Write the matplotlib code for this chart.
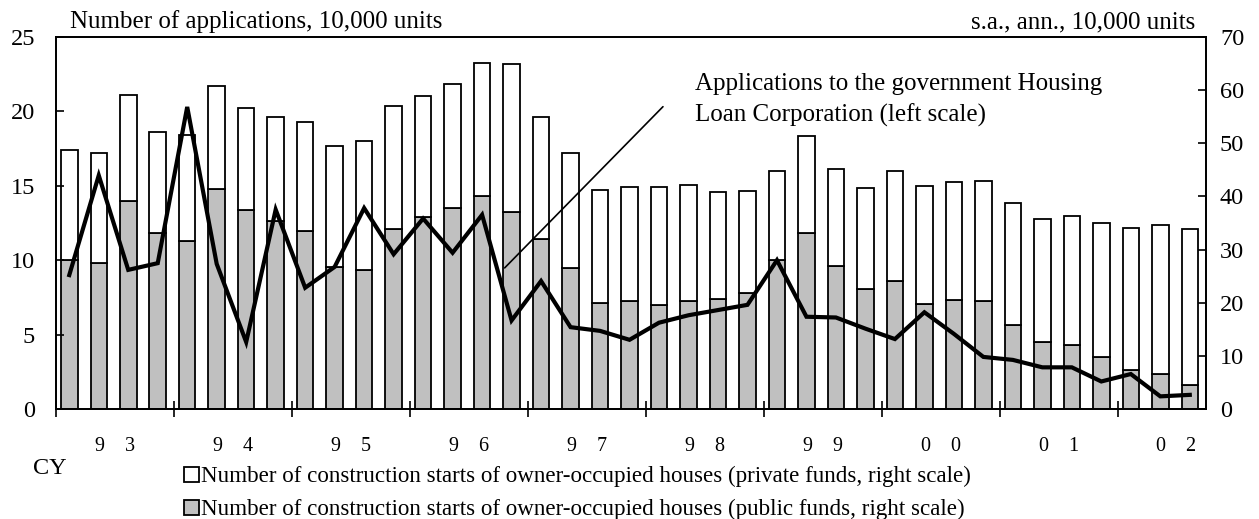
import matplotlib

matplotlib.use("Agg")
import matplotlib.pyplot as plt
import numpy as np
from matplotlib.patches import Rectangle

plt.rcParams["font.family"] = ["Liberation Serif", "DejaVu Serif"]

# quarterly, 1993 Q1 - 2002 Q3
YEAR_LABELS = ["9    3", "9    4", "9    5", "9    6", "9    7",
               "9    8", "9    9", "0    0", "0    1", "0    2"]

# construction starts, public funds (right scale, 10,000 units)
public_funds = [28.1, 27.5, 39.1, 33.1, 31.6, 41.4, 37.5, 35.3, 33.5, 26.7,
                26.2, 33.8, 36.1, 37.8, 40.1, 37.0, 31.9, 26.5, 19.9, 20.4,
                19.6, 20.4, 20.7, 21.8, 28.0, 33.1, 26.9, 22.6, 24.0, 19.8,
                20.5, 20.3, 15.9, 12.7, 12.1, 9.7, 7.4, 6.6, 4.5]
# construction starts, private funds (right scale, 10,000 units)
private_funds = [20.7, 20.6, 19.9, 19.1, 19.9, 19.3, 19.2, 19.7, 20.5, 22.8,
                 24.3, 23.3, 22.8, 23.3, 25.1, 28.0, 23.0, 21.7, 21.4, 21.3,
                 22.1, 21.7, 20.1, 19.2, 16.7, 18.3, 18.3, 19.0, 20.8, 22.1,
                 22.3, 22.6, 22.9, 23.0, 24.3, 25.3, 26.6, 28.1, 29.4]
# applications to the Housing Loan Corporation (left scale, 10,000 units)
applications = [9.0, 15.7, 9.35, 9.8, 20.3, 9.75, 4.5, 13.4, 8.15, 9.55,
                13.5, 10.4, 12.8, 10.5, 13.05, 5.95, 8.6, 5.5, 5.25, 4.65,
                5.8, 6.3, 6.65, 7.0, 10.0, 6.2, 6.15, 5.4, 4.7, 6.5,
                5.05, 3.5, 3.3, 2.8, 2.8, 1.85, 2.35, 0.85, 0.95]

LEGEND_LABELS = [
    "Number of construction starts of owner-occupied houses (private funds, right scale)",
    "Number of construction starts of owner-occupied houses (public funds, right scale)",
]

GRAY = "#c0c0c0"
W, H = 1259, 519
FS_TITLE = 18.0
FS_TICK = 17.5
FS_YEAR = 14.5
FS_LEG = 16.6


def fx(px):
    return px / W


def fy(py):
    return 1 - py / H


n = len(applications)
x = np.arange(n) + 0.45

fig = plt.figure(figsize=(W / 100, H / 100), dpi=100)
ax = fig.add_axes([fx(56), fy(409), 1150 / W, 372 / H])
ax2 = ax.twinx()

# bars on right scale
ax2.bar(x, public_funds, width=0.56, color=GRAY, edgecolor="black", linewidth=1.3)
ax2.bar(x, private_funds, width=0.56, bottom=public_funds, color="white",
        edgecolor="black", linewidth=1.3)
ax2.set_ylim(0, 70)
ax2.set_yticks(range(0, 71, 10))

# line on left scale, drawn above the bars
ax.set_zorder(ax2.get_zorder() + 1)
ax.patch.set_visible(False)
ax.plot(x, applications, color="black", lw=3.0, solid_joinstyle="miter")
ax.set_ylim(0, 25)
ax.set_yticks(range(0, 26, 5))
ax.set_xlim(0, n)

ax.annotate("", xy=(15.15, 9.35), xytext=(20.65, 20.45),
            arrowprops=dict(arrowstyle="-", color="black", lw=1.2))
fig.text(fx(695), fy(90), "Applications to the government Housing",
         ha="left", va="baseline", fontsize=FS_TITLE)
fig.text(fx(695), fy(122), "Loan Corporation (left scale)",
         ha="left", va="baseline", fontsize=FS_TITLE)

# x axis: year boundaries + centred labels
ax.set_xticks(np.arange(0, n, 4))
ax.set_xticklabels([])
ax.set_xticks(np.arange(len(YEAR_LABELS)) * 4 + 2, minor=True)
ax.set_xticklabels(YEAR_LABELS, minor=True, fontsize=FS_YEAR)
ax.tick_params(axis="x", which="major", direction="inout", length=11, width=1.2)
ax.tick_params(axis="x", which="minor", length=0, pad=20)
ax2.tick_params(axis="x", which="both", length=0)

ax.tick_params(axis="y", direction="in", length=6, width=1.2, pad=15,
               labelsize=FS_TICK)
ax2.tick_params(axis="y", direction="in", length=6, width=1.2, pad=10,
                labelsize=FS_TICK)

for a in (ax, ax2):
    for s in a.spines.values():
        s.set_linewidth(1.3)

fig.text(fx(70), fy(28), "Number of applications, 10,000 units",
         ha="left", va="baseline", fontsize=FS_TITLE)
fig.text(fx(1195), fy(28), "s.a., ann., 10,000 units",
         ha="right", va="baseline", fontsize=FS_TITLE)
fig.text(fx(50), fy(468), "CY", ha="center", va="center", fontsize=FS_TICK)

# legend: square swatch + label per row
for colour, label, base in zip(["white", GRAY], LEGEND_LABELS, [482, 515]):
    fig.patches.append(Rectangle((fx(184), fy(base)), 15 / W, 15 / H,
                                 transform=fig.transFigure, facecolor=colour,
                                 edgecolor="black", linewidth=1.3))
    fig.text(fx(201), fy(base), label, ha="left", va="baseline", fontsize=FS_LEG)

fig.savefig("out.png", dpi=100)
